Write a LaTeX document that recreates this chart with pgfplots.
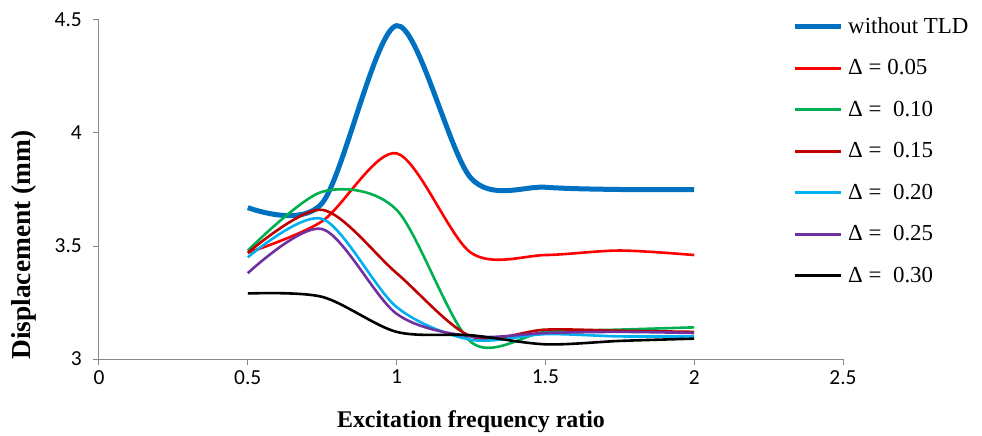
\documentclass[border=0pt]{standalone}
\usepackage{fontspec}
\setmainfont{Liberation Serif}
\newfontfamily\carlito{Carlito}
\usepackage{pgfplots}
\pgfplotsset{compat=1.18}

\definecolor{axisgray}{HTML}{868686}
\definecolor{cblue}{HTML}{0070C0}
\definecolor{cred}{HTML}{FF0000}
\definecolor{cgreen}{HTML}{00B050}
\definecolor{cbrown}{HTML}{C00000}
\definecolor{ccyan}{HTML}{00B0F0}
\definecolor{cpurple}{HTML}{7030A0}

\begin{document}
\begin{tikzpicture}
\begin{axis}[
  scale only axis,
  width=744bp, height=339bp,
  xmin=0, xmax=2.5, ymin=3, ymax=4.5,
  xtick={0,0.5,...,2.5}, ytick={3,3.5,4,4.5},
  axis lines*=left,
  axis line style={-, draw=axisgray, line width=1bp},
  tick style={draw=axisgray, line width=1bp},
  tick align=outside, major tick length=6bp,
  /pgf/number format/assume math mode=true,
  tick label style={font=\carlito\fontsize{21.5}{21.5}\selectfont},
  xticklabel style={anchor=north, inner sep=0pt, yshift=-5bp},
  yticklabel style={anchor=east, inner sep=0pt, xshift=-11bp},
  xlabel={Excitation frequency ratio},
  ylabel={Displacement (mm)},
  xlabel style={font=\bfseries\fontsize{24}{24}\selectfont,
                at={(axis description cs:0.5,-0.185)}, anchor=center},
  ylabel style={font=\bfseries\fontsize{27.5}{27.5}\selectfont,
                at={(axis description cs:-0.1008,0.336)}, anchor=center},
  legend style={at={(axis description cs:0.9315,1.0088)}, anchor=north west,
                draw=none, fill=none, inner sep=0pt,
                row sep=20.5bp, column sep=5bp,
                font=\fontsize{23}{23}\selectfont,
                nodes={inner sep=0pt, text height=16bp, text depth=5bp, anchor=west}},
  legend cell align=left,
  legend image code/.code={\draw[#1] (0bp,1bp) -- (46bp,1bp);},
  every axis plot/.append style={smooth, tension=0.5, line width=2.6bp},
]
\addplot[cblue, line width=5bp] coordinates {
  (0.5,3.67) (0.75,3.69) (1,4.475) (1.25,3.80) (1.5,3.76) (1.75,3.75) (2,3.75)};
\addlegendentry{without TLD}
\addplot[cred] coordinates {
  (0.5,3.47) (0.75,3.61) (1,3.91) (1.25,3.47) (1.5,3.46) (1.75,3.48) (2,3.46)};
\addlegendentry{Δ = 0.05}
\addplot[cgreen] coordinates {
  (0.5,3.48) (0.75,3.74) (1,3.66) (1.25,3.075) (1.5,3.12) (1.75,3.13) (2,3.14)};
\addlegendentry{Δ =~ 0.10}
\addplot[cbrown] coordinates {
  (0.5,3.47) (0.75,3.66) (1,3.38) (1.25,3.10) (1.5,3.13) (1.75,3.125) (2,3.12)};
\addlegendentry{Δ =~ 0.15}
\addplot[ccyan] coordinates {
  (0.5,3.45) (0.75,3.62) (1,3.23) (1.25,3.085) (1.5,3.11) (1.75,3.10) (2,3.10)};
\addlegendentry{Δ =~ 0.20}
\addplot[cpurple] coordinates {
  (0.5,3.38) (0.75,3.575) (1,3.20) (1.25,3.10) (1.5,3.115) (1.75,3.12) (2,3.115)};
\addlegendentry{Δ =~ 0.25}
\addplot[black] coordinates {
  (0.5,3.29) (0.75,3.275) (1,3.12) (1.25,3.105) (1.5,3.065) (1.75,3.08) (2,3.09)};
\addlegendentry{Δ =~ 0.30}
\end{axis}
\pgfresetboundingbox
\path[use as bounding box] ([xshift=-99bp,yshift=-77bp]current axis.south west)
  rectangle ([xshift=139bp,yshift=20bp]current axis.north east);
\end{tikzpicture}
\end{document}
